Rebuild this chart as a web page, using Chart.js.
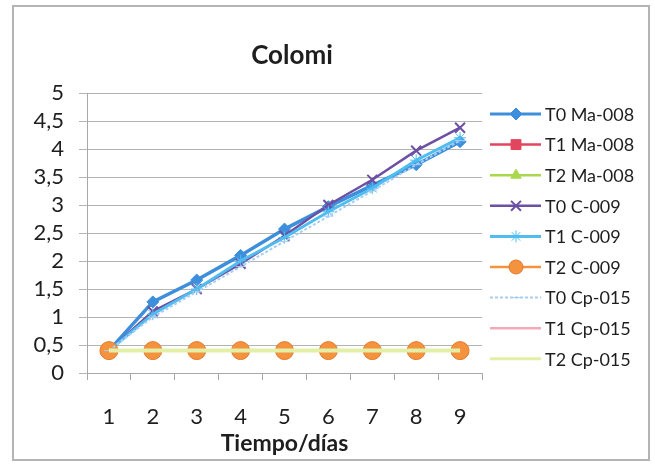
<!doctype html>
<html lang="es">

<head>
  <meta charset="UTF-8" />
  <script src="https://cdn.jsdelivr.net/npm/chart.js@4/dist/chart.umd.min.js"></script>
  <style>
    html, body { margin: 0; padding: 0; background: #fff; }
    #wrap { position: relative; width: 655px; height: 467px; }
    #frame { position: absolute; left: 12px; top: 5px; width: 638px; height: 456px; border: 2px solid #b4b4b4; box-sizing: border-box; }
    #wrap canvas { position: absolute; left: 0; top: 0; }
  </style>
</head>

<body>
  <div id="wrap">
    <div id="frame"></div>
    <canvas id="chart" width="655" height="467"></canvas>
  </div>
  <script>
    // datos
    const days = ['1', '2', '3', '4', '5', '6', '7', '8', '9'];
    const yTicks = [0, 0.5, 1, 1.5, 2, 2.5, 3, 3.5, 4, 4.5, 5];
    const seriesNames = ['T0 Ma-008', 'T1 Ma-008', 'T2 Ma-008', 'T0 C-009', 'T1 C-009', 'T2 C-009', 'T0 Cp-015', 'T1 Cp-015', 'T2 Cp-015'];

    const t0Ma = [0.4, 1.27, 1.66, 2.1, 2.57, 2.97, 3.35, 3.72, 4.13];
    const t1Ma = [0.4, 0.4, 0.4, 0.4, 0.4, 0.4, 0.4, 0.4, 0.4];
    const t2Ma = [0.4, 0.4, 0.4, 0.4, 0.4, 0.4, 0.4, 0.4, 0.4];
    const t0C = [0.4, 1.1, 1.5, 1.95, 2.45, 3.0, 3.45, 3.97, 4.38];
    const t1C = [0.4, 1.05, 1.5, 2.0, 2.42, 2.88, 3.3, 3.8, 4.2];
    const t2C = [0.4, 0.4, 0.4, 0.4, 0.4, 0.4, 0.4, 0.4, 0.4];
    const t0Cp = [0.4, 1.0, 1.45, 1.9, 2.35, 2.8, 3.25, 3.72, 4.15];
    const t1Cp = [0.4, 0.4, 0.4, 0.4, 0.4, 0.4, 0.4, 0.4, 0.4];
    const t2Cp = [0.4, 0.4, 0.4, 0.4, 0.4, 0.4, 0.4, 0.4, 0.4];

    const values = [t0Ma, t1Ma, t2Ma, t0C, t1C, t2C, t0Cp, t1Cp, t2Cp];
    const colors = ['#3d8fdc', '#e2455e', '#a9d84c', '#6d4fa3', '#4fbdf0', '#f5923e', '#a9cdf2', '#f4a9b8', '#e3efa6'];
    const points = ['rectRot', 'rect', 'triangle', 'crossRot', 'star', 'circle', 'line', false, false];
    const radii = [6, 7, 6, 7, 6, 9, 5, 0, 0];
    const widths = [3.5, 2.5, 2.5, 2.5, 3, 2.5, 2, 2.5, 4];

    const FONT = 'Lato, "Open Sans", sans-serif';

    const datasets = values.map(function (v, i) {
      return {
        label: seriesNames[i],
        data: v,
        borderColor: colors[i],
        backgroundColor: colors[i],
        borderWidth: widths[i],
        borderDash: i === 6 ? [3, 2] : [],
        pointStyle: points[i],
        pointRadius: radii[i],
        pointBorderWidth: i === 3 ? 2 : 1,
        pointBorderColor: i === 5 ? '#e07a2e' : colors[i],
        tension: 0,
        order: values.length - i
      };
    });

    // titulo y leyenda a mano (linea + marcador como en Excel)
    const extras = {
      id: 'extras',
      afterDraw: function (chart) {
        const ctx = chart.ctx;
        ctx.save();
        ctx.fillStyle = '#1e1e1e';
        ctx.font = 'bold 26px ' + FONT;
        ctx.textAlign = 'center';
        ctx.textBaseline = 'middle';
        ctx.fillText('Colomi', 292, 56);

        ctx.font = '18px ' + FONT;
        ctx.textAlign = 'left';
        chart.data.datasets.forEach(function (ds, i) {
          const y = 114 + i * 30.6;
          ctx.strokeStyle = ds.borderColor;
          ctx.lineWidth = Math.min(ds.borderWidth, 3);
          ctx.setLineDash(ds.borderDash);
          ctx.beginPath();
          ctx.moveTo(490, y);
          ctx.lineTo(541, y);
          ctx.stroke();
          ctx.setLineDash([]);
          if (ds.pointStyle) {
            ctx.fillStyle = ds.backgroundColor;
            ctx.strokeStyle = ds.pointBorderColor;
            ctx.lineWidth = ds.pointBorderWidth;
            Chart.helpers.drawPoint(ctx, {
              pointStyle: ds.pointStyle,
              radius: Math.min(ds.pointRadius, 7),
              rotation: 0,
              borderWidth: ds.pointBorderWidth
            }, 516, y);
          }
          ctx.fillStyle = '#1e1e1e';
          ctx.fillText(ds.label, 545, y + 1);
        });
        ctx.restore();
      }
    };

    new Chart(document.getElementById('chart'), {
      type: 'line',
      data: { labels: days, datasets: datasets },
      plugins: [extras],
      options: {
        responsive: false,
        animation: false,
        layout: { padding: { left: 15, right: 173, top: 93, bottom: 10 } },
        plugins: {
          legend: { display: false },
          title: { display: false },
          tooltip: { enabled: false }
        },
        scales: {
          x: {
            offset: true,
            grid: { offset: true, drawOnChartArea: false, tickLength: 7, color: '#a8a8a8' },
            border: { color: '#a8a8a8' },
            ticks: { color: '#1e1e1e', font: { family: FONT, size: 22 }, padding: 24, maxRotation: 0 },
            title: { display: true, text: 'Tiempo/días', color: '#1e1e1e', font: { family: FONT, size: 23, weight: 'bold' }, padding: { top: 0, bottom: 0 } },
            afterFit: function (scale) { scale.height = 84; }
          },
          y: {
            min: 0,
            max: 5,
            afterBuildTicks: function (scale) { scale.ticks = yTicks.map(function (v) { return { value: v }; }); },
            grid: { color: '#b4b4b4', tickLength: 8 },
            border: { color: '#a8a8a8' },
            ticks: {
              autoSkip: false,
              color: '#1e1e1e',
              font: { family: FONT, size: 22 },
              padding: 15,
              callback: function (v) { return String(v).replace('.', ','); }
            },
            afterFit: function (scale) { scale.width = 72; }
          }
        }
      }
    });
  </script>
</body>

</html>
